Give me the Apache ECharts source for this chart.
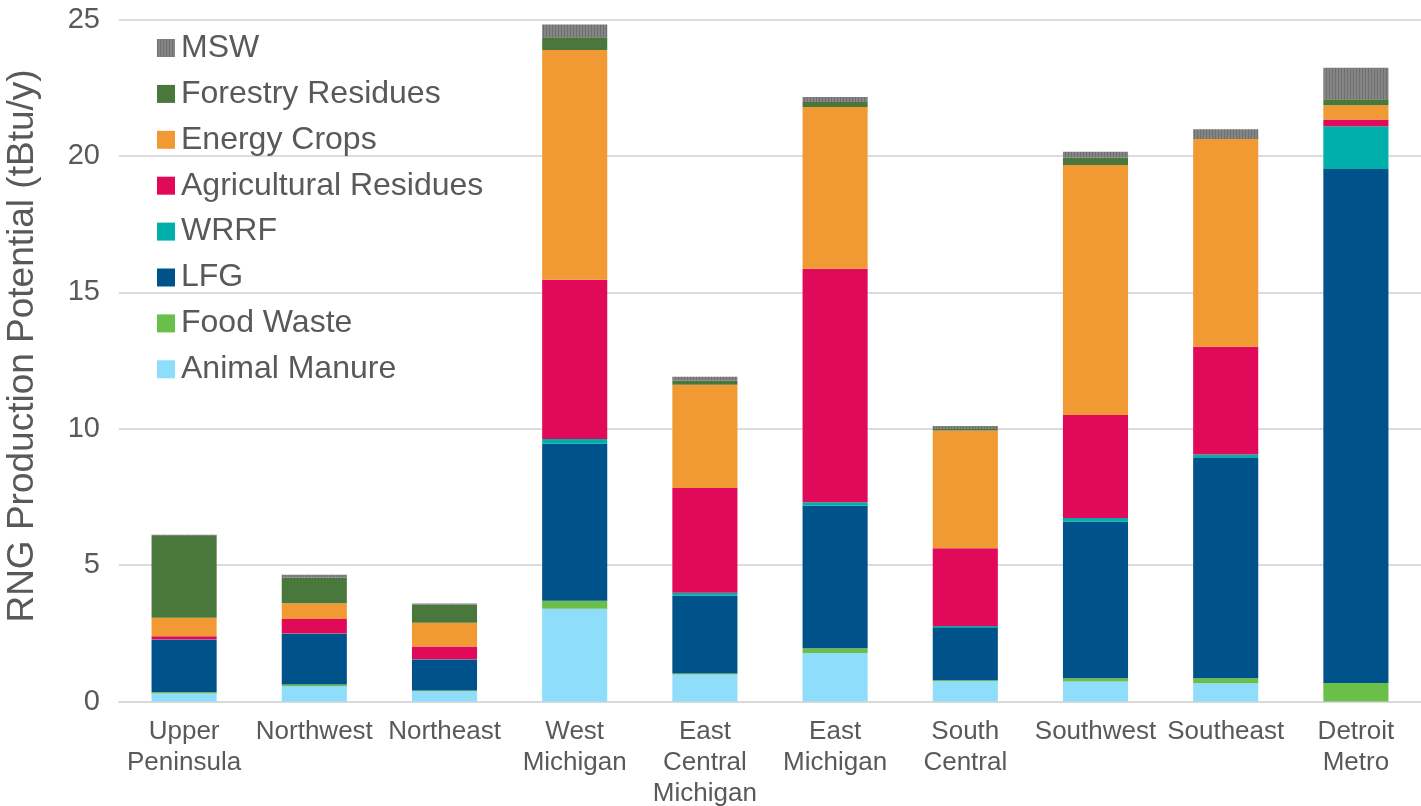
<!DOCTYPE html>
<html>
<head>
<meta charset="utf-8">
<script src="https://cdn.jsdelivr.net/npm/echarts@6/dist/echarts.min.js"></script>
<style>
  html, body { margin: 0; padding: 0; background: #ffffff; }
  #chart { width: 1421px; height: 806px; }
</style>
</head>
<body>
<div id="chart"></div>
<script>
// Regions of Michigan (labels wrap onto several lines)
const regions = [
  'Upper\nPeninsula', 'Northwest', 'Northeast', 'West\nMichigan',
  'East\nCentral\nMichigan', 'East\nMichigan', 'South\nCentral',
  'Southwest', 'Southeast', 'Detroit\nMetro'
];

// RNG production potential by feedstock, tBtu/y (stacked bottom to top)
const animalManure = [0.29, 0.56, 0.38, 3.40, 0.99, 1.78, 0.74, 0.73, 0.67, 0.00];
const foodWaste    = [0.05, 0.06, 0.02, 0.29, 0.04, 0.17, 0.04, 0.12, 0.18, 0.68];
const lfg          = [1.91, 1.85, 1.14, 5.76, 2.85, 5.23, 1.94, 5.75, 8.08, 18.84];
const wrrf         = [0.02, 0.02, 0.01, 0.17, 0.11, 0.12, 0.05, 0.13, 0.12, 1.57];
const agResidues   = [0.12, 0.53, 0.47, 5.84, 3.84, 8.56, 2.85, 3.77, 3.95, 0.24];
const energyCrops  = [0.68, 0.58, 0.87, 8.42, 3.78, 5.93, 4.31, 9.17, 7.62, 0.53];
const forestry     = [3.00, 0.94, 0.66, 0.47, 0.15, 0.19, 0.06, 0.26, 0.00, 0.22];
const msw          = [0.04, 0.11, 0.04, 0.47, 0.14, 0.18, 0.11, 0.22, 0.36, 1.15];

// Y axis ticks
const yMin = 0, yMax = 25, yStep = 5;

// Grey fill with fine vertical stripes for MSW
function stripePattern() {
  const c = document.createElement('canvas');
  c.width = 3; c.height = 3;
  const ctx = c.getContext('2d');
  ctx.fillStyle = '#858585';
  ctx.fillRect(0, 0, 3, 3);
  ctx.fillStyle = '#6f6f6f';
  ctx.fillRect(0, 0, 1, 3);
  return { image: c, repeat: 'repeat' };
}

const seriesDefs = [
  { name: 'Animal Manure',       data: animalManure, color: '#8EDDFB' },
  { name: 'Food Waste',          data: foodWaste,    color: '#6ABF4B' },
  { name: 'LFG',                 data: lfg,          color: '#00528A' },
  { name: 'WRRF',                data: wrrf,         color: '#00AFA9' },
  { name: 'Agricultural Residues', data: agResidues, color: '#E0095A' },
  { name: 'Energy Crops',        data: energyCrops,  color: '#F19A34' },
  { name: 'Forestry Residues',   data: forestry,     color: '#4A773C' },
  { name: 'MSW',                 data: msw,          color: stripePattern() }
];

const textColor = '#595959';
const font = 'Liberation Sans, Arial, sans-serif';

const chart = echarts.init(document.getElementById('chart'), null, { renderer: 'canvas' });

chart.setOption({
  animation: false,
  backgroundColor: '#ffffff',
  grid: {
    left: 119, right: 0, top: 19.5, bottom: 104.5,
    containLabel: false, outerBoundsMode: 'none'
  },
  legend: {
    orient: 'vertical',
    left: 152,
    top: 27,
    itemWidth: 18,
    itemHeight: 18,
    itemGap: 13.9,
    icon: 'rect',
    data: seriesDefs.map(s => s.name).reverse(),
    textStyle: { color: textColor, fontFamily: font, fontSize: 32, lineHeight: 31, padding: [0, 0, 0, 1] }
  },
  xAxis: {
    type: 'category',
    data: regions,
    axisTick: { show: false },
    axisLine: { show: true, lineStyle: { color: '#d9d9d9', width: 2 } },
    axisLabel: {
      color: textColor, fontFamily: font, fontSize: 26, lineHeight: 31,
      margin: 15, interval: 0
    }
  },
  yAxis: {
    type: 'value',
    min: yMin, max: yMax, interval: yStep,
    name: 'RNG Production Potential (tBtu/y)',
    nameLocation: 'middle',
    nameRotate: 90,
    nameGap: 78,
    nameTextStyle: { color: textColor, fontFamily: font, fontSize: 37, padding: [0, 0, 0, 29] },
    axisLine: { show: false },
    axisTick: { show: false },
    axisLabel: { color: textColor, fontFamily: font, fontSize: 29, margin: 19 },
    splitLine: { lineStyle: { color: '#dcdcdc', width: 2 } }
  },
  series: seriesDefs.map(s => ({
    name: s.name,
    type: 'bar',
    stack: 'total',
    barWidth: '50%',
    data: s.data,
    itemStyle: { color: s.color },
    emphasis: { disabled: true }
  }))
});
</script>
</body>
</html>
